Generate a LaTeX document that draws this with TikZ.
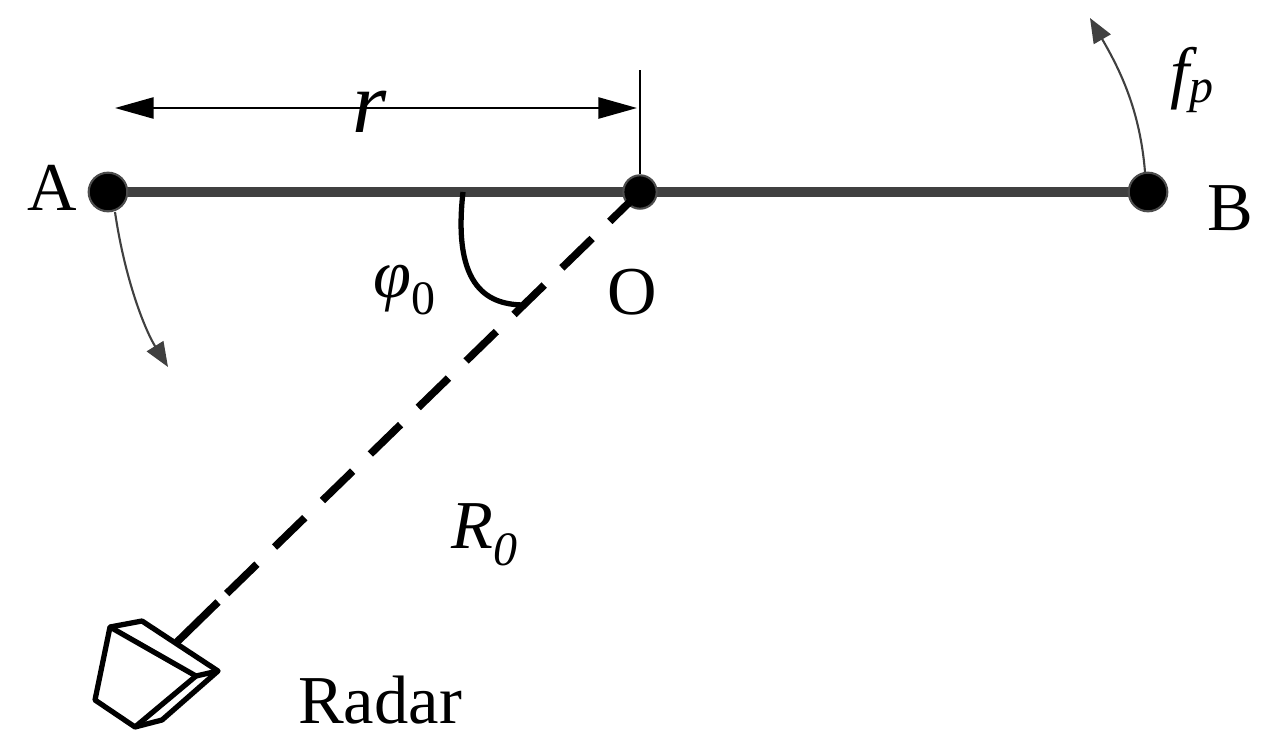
\documentclass[tikz,border=0pt]{standalone}
\usepackage{fontspec}
\setmainfont{Liberation Serif}
\usetikzlibrary{arrows.meta}
\begin{document}
\begin{tikzpicture}[x=0.02cm,y=-0.02cm,
  lbl/.style={font=\fontsize{39}{44}\selectfont, inner sep=0},
  dot/.style={circle, fill=black, draw=black!70, line width=1.2pt, inner sep=0},
  rot/.style={draw=black!75, line width=1.2pt, -{Triangle[length=14pt,width=11pt]}}]
\useasboundingbox (0,0) rectangle (1275,747);
\coordinate (A) at (108,192);
\coordinate (B) at (1148,192);
\coordinate (O) at (640,192);
\draw[black!75, line width=6pt] (A) -- (B);
\node[dot, minimum size=22pt] (Ad) at (A) {};
\node[dot, minimum size=22pt] (Bd) at (B) {};
\node[dot, minimum size=19pt] (Od) at (O) {};
\coordinate (T) at (640,70);
\draw[line width=1pt] (T) -- (Od);
\coordinate (r1) at (115,108); \coordinate (r2) at (637,108);
\draw[line width=1.3pt, {Triangle[length=22pt,width=12pt]}-{Triangle[length=22pt,width=12pt]}] (r1) -- (r2);
\node[lbl, font=\fontsize{50}{54}\selectfont\itshape] (rl) at (370,112) {r};
\coordinate (S) at (218,602);
\draw[line width=4.3pt, dash pattern=on 24pt off 14pt] (O) -- (S);
\coordinate (P) at (177,642);
\draw[line width=4.3pt] (S) -- (P);
\coordinate (a1) at (463,192); \coordinate (a2) at (525,305);
\draw[line width=3pt] (a1) .. controls (452,290) and (490,305) .. (a2);
% radar
\draw[line width=3pt, line join=round] (110,627) -- (142,621) -- (218,671) -- (162,720) -- (135,727) -- (95,700) -- cycle;
\draw[line width=3pt, line join=round] (110,627) -- (196,676) -- (218,671);
\draw[line width=3pt] (196,676) -- (135,727);
% rotation arrows
\coordinate (ra1) at (115,212); \coordinate (ra2) at (168,367);
\draw[rot] (ra1) .. controls (125,280) and (145,330) .. (ra2);
\coordinate (rb1) at (1145,172); \coordinate (rb2) at (1090,18);
\draw[rot] (rb1) .. controls (1140,110) and (1120,70) .. (rb2);
\node[lbl] (Al) at (52,188) {A};
\node[lbl] (Bl) at (1230,208) {B};
\node[lbl] (Ol) at (632,292) {O};
\node[lbl] (phi) at (405,290) {{\itshape φ}\textsubscript{0}};
\node[lbl] (R0) at (485,535) {\itshape R\textsubscript{0}};
\node[lbl] (rad) at (380,700) {Radar};
\node[lbl] (fp) at (1192,80) {\itshape f\textsubscript{p}};
\end{tikzpicture}
\end{document}
